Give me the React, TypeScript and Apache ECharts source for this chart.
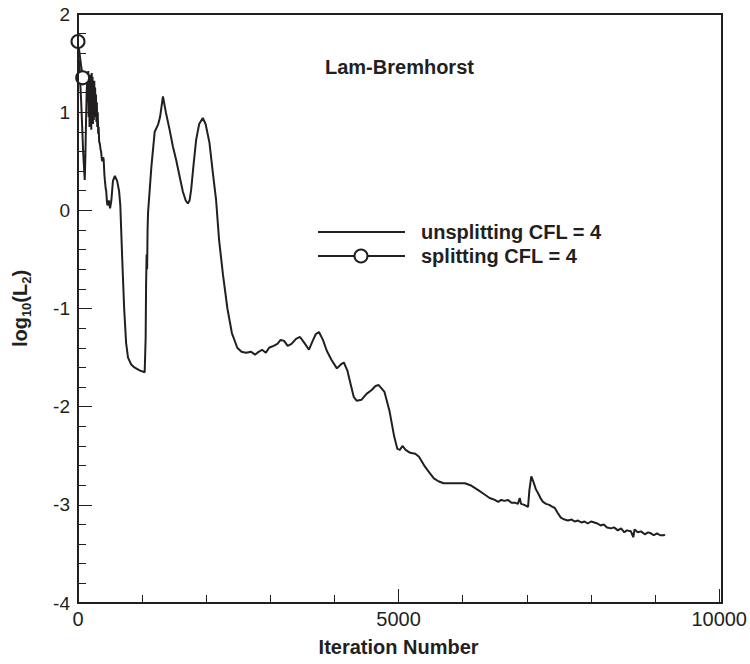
import React, { useEffect, useRef } from "react";
import * as echarts from "echarts";

const INK = "#231f20";

const X_TICKS = [0, 5000, 10000];
const Y_TICKS = [-4, -3, -2, -1, 0, 1, 2];

const SERIES_NAMES = ["unsplitting CFL = 4", "splitting CFL = 4"];
const TITLE = "Lam-Bremhorst";

const UNSPLIT_ITER = [
  0, 20, 50, 80, 105, 115, 125, 135, 145, 152, 160, 167, 173, 180, 187, 193, 200, 207, 214, 220,
  227, 233, 240, 247, 254, 260, 267, 274, 280, 287, 294, 300, 308, 315, 322, 330, 340, 352, 360, 372,
  380, 392, 400, 412, 420, 432, 440, 452, 460, 480, 500, 520, 545, 575, 610, 640, 660, 690, 720, 750,
  780, 830, 880, 960, 1040, 1055, 1062, 1070, 1078, 1085, 1092, 1144, 1196, 1247, 1280, 1325, 1370, 1429, 1480, 1532,
  1590, 1636, 1680, 1713, 1740, 1765, 1800, 1843, 1890, 1946, 1990, 2050, 2100, 2153, 2200, 2260, 2330, 2400, 2484, 2550,
  2620, 2700, 2760, 2800, 2870, 2930, 2981, 3050, 3110, 3160, 3214, 3270, 3330, 3400, 3463, 3530, 3602, 3660, 3710, 3758,
  3820, 3880, 3950, 4037, 4100, 4146, 4200, 4255, 4300, 4348, 4420, 4500, 4580, 4640, 4690, 4780, 4860, 4930, 4980, 5020,
  5060, 5110, 5180, 5260, 5318, 5400, 5466, 5550, 5621, 5700, 5776, 5900, 6035, 6120, 6242, 6330, 6420, 6500, 6553, 6600,
  6650, 6708, 6760, 6820, 6860, 6889, 6910, 6960, 7019, 7040, 7070, 7100, 7140, 7174, 7220, 7252, 7300, 7350, 7400, 7433,
  7480, 7530, 7588, 7640, 7700, 7743, 7800, 7850, 7900, 7950, 8000, 8054, 8100, 8150, 8200, 8250, 8313, 8360, 8420, 8470,
  8520, 8560, 8623, 8660, 8680, 8730, 8780, 8840, 8890, 8934, 8980, 9030, 9080, 9141, 9150,
];

const UNSPLIT_LOG_L2 = [
  1.58, 1.5, 1.1, 0.6, 0.31, 0.55, 0.9, 1.2, 1.35, 1.1, 1.42, 0.95, 1.3, 0.85, 1.38, 0.9, 1.33, 0.82, 1.4, 0.95,
  1.36, 0.88, 1.3, 0.92, 1.32, 0.95, 1.25, 0.95, 1.18, 0.9, 1.1, 0.85, 1.0, 0.78, 0.85, 0.7, 0.68, 0.62, 0.6, 0.52,
  0.5, 0.54, 0.52, 0.36, 0.3, 0.22, 0.2, 0.08, 0.05, 0.1, 0.02, 0.1, 0.3, 0.35, 0.3, 0.2, 0.05, -0.5, -1.0, -1.35,
  -1.5, -1.57, -1.6, -1.63, -1.65, -1.3, -0.75, -0.45, -0.6, -0.2, -0.03, 0.44, 0.8, 0.87, 0.95, 1.16, 1.0, 0.82, 0.65, 0.51,
  0.33, 0.19, 0.1, 0.07, 0.1, 0.21, 0.45, 0.72, 0.88, 0.94, 0.88, 0.69, 0.4, 0.11, -0.3, -0.65, -1.0, -1.25, -1.4, -1.44,
  -1.45, -1.44, -1.47, -1.45, -1.42, -1.45, -1.4, -1.38, -1.36, -1.32, -1.33, -1.38, -1.36, -1.31, -1.29, -1.35, -1.42, -1.33, -1.26, -1.24,
  -1.32, -1.43, -1.52, -1.61, -1.57, -1.55, -1.63, -1.78, -1.9, -1.94, -1.93, -1.87, -1.83, -1.79, -1.78, -1.85, -2.05, -2.3, -2.43, -2.44,
  -2.4, -2.44, -2.47, -2.48, -2.51, -2.6, -2.66, -2.73, -2.76, -2.78, -2.78, -2.78, -2.78, -2.8, -2.85, -2.89, -2.93, -2.95, -2.97, -2.95,
  -2.96, -2.95, -2.98, -2.98, -2.99, -2.93, -2.99, -3.0, -3.02, -2.85, -2.71, -2.76, -2.84, -2.88, -2.94, -2.97, -2.99, -3.0, -3.02, -3.03,
  -3.08, -3.13, -3.15, -3.16, -3.15, -3.17, -3.16, -3.18, -3.17, -3.19, -3.17, -3.18, -3.19, -3.21, -3.2, -3.23, -3.24, -3.23, -3.26, -3.24,
  -3.28, -3.26, -3.27, -3.33, -3.25, -3.28, -3.27, -3.3, -3.28, -3.29, -3.31, -3.29, -3.31, -3.31, -3.3,
];

const SPLIT_ITER = [0, 73];
const SPLIT_LOG_L2 = [1.72, 1.35];

function zip(xs: number[], ys: number[]): number[][] {
  return xs.map((x, i) => [x, ys[i]]);
}

export default function App() {
  const ref = useRef<HTMLDivElement>(null);

  useEffect(() => {
    if (!ref.current) return;
    const chart = echarts.init(ref.current, null, { renderer: "svg" });
    const font = "'Liberation Sans', Arial, Helvetica, sans-serif";
    const legendText = { fontFamily: font, fontSize: 20, fontWeight: "bold", fill: INK, verticalAlign: "middle", align: "left" };
    chart.setOption({
      animation: false,
      backgroundColor: "#ffffff",
      textStyle: { fontFamily: font, color: INK },
      title: {
        text: TITLE,
        left: 320,
        top: 52,
        textStyle: { fontFamily: font, fontSize: 20, fontWeight: "bold", color: INK },
      },
      grid: { left: 78, right: 28, top: 14, bottom: 61, containLabel: false },
      xAxis: {
        type: "value",
        min: X_TICKS[0],
        max: X_TICKS[X_TICKS.length - 1],
        interval: 5000,
        name: "Iteration Number",
        nameLocation: "middle",
        nameGap: 34,
        nameTextStyle: { fontFamily: font, fontSize: 20, fontWeight: "bold", color: INK },
        axisLine: { show: true, onZero: false, lineStyle: { color: INK, width: 2 } },
        axisTick: { show: true, inside: true, length: 14, lineStyle: { color: INK, width: 1 } },
        minorTick: { show: true, splitNumber: 5, length: 8, lineStyle: { color: INK, width: 1 } },
        axisLabel: { fontFamily: font, fontSize: 20, color: INK, margin: 6, formatter: (v: number) => String(v) },
        splitLine: { show: false },
      },
      yAxis: {
        type: "value",
        min: Y_TICKS[0],
        max: Y_TICKS[Y_TICKS.length - 1],
        interval: 1,
        name: "{a|log}{s|10}{a|(L}{s|2}{a|)}",
        nameLocation: "middle",
        nameGap: 45,
        nameRotate: 90,
        nameTextStyle: {
          fontFamily: font,
          color: INK,
          rich: {
            a: { fontFamily: font, fontSize: 20, fontWeight: "bold", color: INK, lineHeight: 26, verticalAlign: "middle" },
            s: { fontFamily: font, fontSize: 13, fontWeight: "bold", color: INK, lineHeight: 26, verticalAlign: "bottom", padding: [10, 0, 0, 0] },
          },
        },
        axisLine: { show: true, onZero: false, lineStyle: { color: INK, width: 2 } },
        axisTick: { show: true, inside: true, length: 14, lineStyle: { color: INK, width: 1 } },
        minorTick: { show: true, splitNumber: 5, length: 8, lineStyle: { color: INK, width: 1 } },
        axisLabel: { fontFamily: font, fontSize: 19, color: INK, margin: 8, formatter: (v: number) => String(v) },
        splitLine: { show: false },
      },
      graphic: [
        {
          type: "rect",
          shape: { x: 78, y: 14, width: 644, height: 589 },
          style: { fill: "none", stroke: INK, lineWidth: 2 },
          silent: true,
          z: 10,
        },
        {
          type: "line",
          shape: { x1: 318, y1: 232, x2: 405, y2: 232 },
          style: { stroke: INK, lineWidth: 2 },
          silent: true,
          z: 10,
        },
        {
          type: "text",
          x: 421,
          y: 232,
          style: { ...legendText, text: SERIES_NAMES[0] },
          silent: true,
          z: 10,
        },
        {
          type: "line",
          shape: { x1: 318, y1: 256, x2: 405, y2: 256 },
          style: { stroke: INK, lineWidth: 2 },
          silent: true,
          z: 10,
        },
        {
          type: "circle",
          shape: { cx: 361, cy: 256, r: 6.5 },
          style: { fill: "#ffffff", stroke: INK, lineWidth: 2 },
          silent: true,
          z: 11,
        },
        {
          type: "text",
          x: 421,
          y: 256,
          style: { ...legendText, text: SERIES_NAMES[1] },
          silent: true,
          z: 10,
        },
      ],
      series: [
        {
          name: SERIES_NAMES[0],
          type: "line",
          data: zip(UNSPLIT_ITER, UNSPLIT_LOG_L2),
          symbol: "none",
          lineStyle: { color: INK, width: 2 },
          itemStyle: { color: INK },
          z: 3,
        },
        {
          name: SERIES_NAMES[1],
          type: "line",
          data: zip(SPLIT_ITER, SPLIT_LOG_L2),
          symbol: "circle",
          symbolSize: 13,
          showAllSymbol: true,
          lineStyle: { color: INK, width: 2 },
          itemStyle: { color: "#ffffff", borderColor: INK, borderWidth: 2 },
          z: 4,
        },
      ],
    });
    return () => chart.dispose();
  }, []);

  return (
    <div
      ref={ref}
      style={{ position: "fixed", left: 0, top: 0, width: 750, height: 664, background: "#fff" }}
    />
  );
}
